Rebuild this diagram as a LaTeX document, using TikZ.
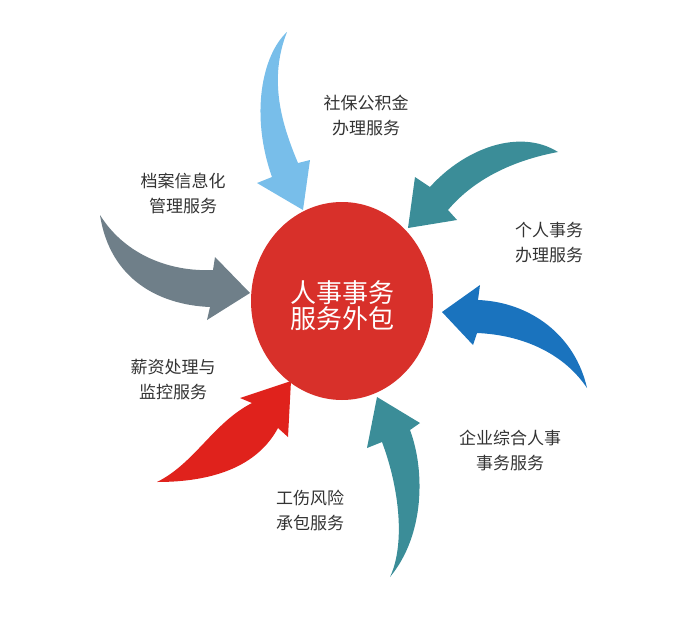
\documentclass[tikz,border=0pt]{standalone}
\usepackage{fontspec}
\usetikzlibrary{shapes.geometric}
\setmainfont{Noto Sans CJK SC}
\definecolor{lblue}{HTML}{78BEEA}
\definecolor{teal1}{HTML}{3B8D98}
\definecolor{blue1}{HTML}{1A73BE}
\definecolor{red1}{HTML}{E0221C}
\definecolor{grey1}{HTML}{6F7F89}
\definecolor{core}{HTML}{D8302A}
\definecolor{txt}{HTML}{333333}
\begin{document}
\begin{tikzpicture}[x=1pt,y=-1pt,
  lbl/.style={text=txt,font=\fontsize{17}{25}\selectfont,align=center,inner sep=0pt},
  hub/.style={ellipse,fill=core,minimum width=182,minimum height=198,inner sep=0pt,text=white,font=\fontsize{26}{26}\selectfont,align=center}]
\useasboundingbox (0,0) rectangle (686,640);
% arrows
\fill[lblue] (287,32) .. controls (262,55) and (250,115) .. (272,177)
  -- (257,183) -- (303,210) -- (310,160) -- (298,163)
  .. controls (282,125) and (268,80) .. (287,32) -- cycle;
\fill[teal1] (558,152) .. controls (520,128) and (465,148) .. (430,187)
  -- (415,177) -- (408,228) -- (457,220) -- (448,210)
  .. controls (475,178) and (515,160) .. (558,152) -- cycle;
\fill[blue1] (587,388) .. controls (575,335) and (530,302) .. (478,300)
  -- (480,285) -- (442,312) -- (473,345) -- (477,333)
  .. controls (525,335) and (565,355) .. (587,388) -- cycle;
\fill[teal1] (390,577) .. controls (405,545) and (400,490) .. (382,442)
  -- (367,448) -- (377,397) -- (420,423) -- (410,430)
  .. controls (425,470) and (425,535) .. (390,577) -- cycle;
\fill[red1] (157,482) .. controls (195,463) and (213,423) .. (252,403)
  -- (240,398) -- (291,381) -- (288,437) -- (278,428)
  .. controls (257,467) and (212,482) .. (157,482) -- cycle;
\fill[grey1] (100,215) .. controls (125,255) and (170,272) .. (213,270)
  -- (215,257) -- (250,293) -- (207,320) -- (210,307)
  .. controls (160,305) and (110,280) .. (100,215) -- cycle;
% hub
\node[hub] (hub) at (342,301) {};
\node[text=white,font=\fontsize{26}{26}\selectfont,align=center,inner sep=0pt] (hubtext) at (342,306) {人事事务\\服务外包};
% labels
\node[lbl] (l1) at (366,115) {社保公积金\\办理服务};
\node[lbl] (l2) at (183,193) {档案信息化\\管理服务};
\node[lbl] (l3) at (549,243) {个人事务\\办理服务};
\node[lbl] (l4) at (173,380) {薪资处理与\\监控服务};
\node[lbl] (l5) at (510,450) {企业综合人事\\事务服务};
\node[lbl] (l6) at (310,510) {工伤风险\\承包服务};
\end{tikzpicture}
\end{document}
